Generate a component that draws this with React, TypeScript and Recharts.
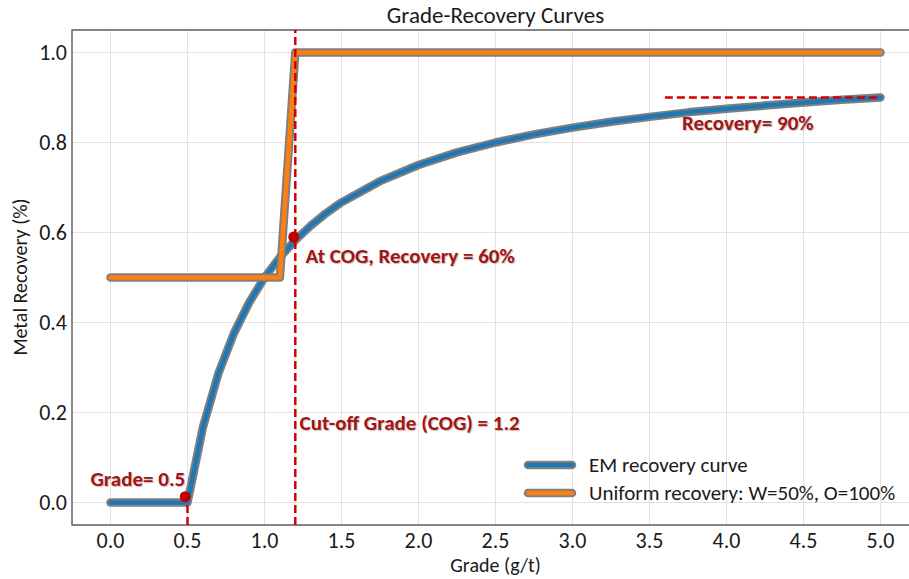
import React from 'react';
import {
  LineChart, Line, XAxis, YAxis, CartesianGrid, ReferenceLine, ReferenceDot, ReferenceArea,
} from 'recharts';

const emGrade = [0, 0.1, 0.2, 0.3, 0.4, 0.5, 0.6, 0.7, 0.8, 0.9, 1.0, 1.1, 1.2, 1.3, 1.4, 1.5, 1.75, 2.0, 2.25, 2.5, 2.75, 3.0, 3.25, 3.5, 3.75, 4.0, 4.25, 4.5, 4.75, 5.0];
const emRecovery = [0, 0, 0, 0, 0, 0, 0.167, 0.286, 0.375, 0.444, 0.5, 0.545, 0.583, 0.615, 0.643, 0.667, 0.714, 0.75, 0.778, 0.8, 0.818, 0.833, 0.846, 0.857, 0.867, 0.875, 0.882, 0.889, 0.895, 0.9];

const uniGrade = [0, 1.1, 1.2, 5.0];
const uniRecovery = [0.5, 0.5, 1.0, 1.0];

const xTicks = [0, 0.5, 1.0, 1.5, 2.0, 2.5, 3.0, 3.5, 4.0, 4.5, 5.0];
const yTicks = [0, 0.2, 0.4, 0.6, 0.8, 1.0];

const seriesNames = ['EM recovery curve', 'Uniform recovery: W=50%, O=100%'];
const seriesColors = ['#1f77b4', '#ff7f0e'];

const cogGrade = 1.2;
const minGrade = 0.5;
const cogPoint = { x: 1.19, y: 0.59 };
const minPoint = { x: 0.485, y: 0.013 };
const maxRecovery = 0.9;
const maxRecoveryFrom = 3.6;
const maxRecoveryTo = 5.0;

const annotations = [
  { x: -0.13, y: 0.053, text: 'Grade= 0.5' },
  { x: 1.267, y: 0.548, text: 'At COG, Recovery = 60%' },
  { x: 1.228, y: 0.177, text: 'Cut-off Grade (COG) = 1.2' },
  { x: 3.711, y: 0.843, text: 'Recovery= 90%' },
];

const emData = emGrade.map((g, i) => ({ x: g, y: emRecovery[i] }));
const uniData = uniGrade.map((g, i) => ({ x: g, y: uniRecovery[i] }));

const FONT = 'Carlito, Lato, sans-serif';
const RED = '#d40000';
const DARKRED = '#a31515';
const OUTLINE = '#7f7f7f';
const TEXT = '#1a1a1a';

const LegendBox = () => (
  <svg width={390} height={60} style={{ position: 'absolute', left: 518, top: 450 }}>
    {seriesNames.map((name, i) => (
      <g key={name}>
        <line x1={10} x2={54} y1={15 + i * 28} y2={15 + i * 28} stroke={OUTLINE} strokeWidth={8.5} strokeLinecap="round" />
        <line x1={10} x2={54} y1={15 + i * 28} y2={15 + i * 28} stroke={seriesColors[i]} strokeWidth={4.5} strokeLinecap="round" />
        <text x={71} y={15 + i * 28} dominantBaseline="central" fontFamily={FONT} fontSize={21} fill={TEXT}>{name}</text>
      </g>
    ))}
  </svg>
);

export default function App() {
  return (
    <div style={{ position: 'absolute', left: 0, top: 0, width: 909, height: 579, overflow: 'hidden', background: '#fff', fontFamily: FONT }}>
      <div style={{ position: 'absolute', left: 0, top: 0 }}>
        <LineChart width={921} height={579} margin={{ top: 30, right: 2, bottom: 0, left: 0 }}>
          <CartesianGrid stroke="#e2e2e2" strokeWidth={1} />
          <XAxis
            type="number"
            dataKey="x"
            domain={[-0.25, 5.25]}
            ticks={xTicks}
            tickFormatter={(v) => v.toFixed(1)}
            allowDataOverflow
            height={54}
            axisLine={false}
            tickLine={false}
            tickSize={5}
            tickMargin={2}
            tick={{ fontSize: 22, fill: TEXT, fontFamily: FONT }}
            label={{ value: 'Grade (g/t)', position: 'insideBottom', offset: 7, fontSize: 20, fill: TEXT, fontFamily: FONT }}
          />
          <YAxis
            type="number"
            dataKey="y"
            domain={[-0.05, 1.05]}
            ticks={yTicks}
            tickFormatter={(v) => v.toFixed(1)}
            allowDataOverflow
            width={72}
            axisLine={false}
            tickLine={false}
            tickSize={3}
            tickMargin={2}
            tick={{ fontSize: 22, fill: TEXT, fontFamily: FONT }}
            label={{
              content: () => (
                <text x={20} y={277} transform="rotate(-90 20 277)" textAnchor="middle" dominantBaseline="central" fontSize={20} fill={TEXT} fontFamily={FONT}>
                  Metal Recovery (%)
                </text>
              ),
            }}
          />
          <ReferenceArea x1={-0.25} x2={5.25} y1={-0.05} y2={1.05} fill="none" stroke="#606060" strokeWidth={1.4} />
          <Line data={emData} dataKey="y" stroke={OUTLINE} strokeWidth={8.5} dot={false} isAnimationActive={false} strokeLinecap="round" strokeLinejoin="round" legendType="none" />
          <Line data={emData} dataKey="y" name={seriesNames[0]} stroke={seriesColors[0]} strokeWidth={4.5} dot={false} isAnimationActive={false} strokeLinecap="round" strokeLinejoin="round" />
          <Line data={uniData} dataKey="y" stroke={OUTLINE} strokeWidth={8.5} dot={false} isAnimationActive={false} strokeLinecap="round" strokeLinejoin="round" legendType="none" />
          <Line data={uniData} dataKey="y" name={seriesNames[1]} stroke={seriesColors[1]} strokeWidth={4.5} dot={false} isAnimationActive={false} strokeLinecap="round" strokeLinejoin="round" />
          <ReferenceLine x={cogGrade} stroke={RED} strokeWidth={2.5} strokeDasharray="8 4" />
          <ReferenceLine segment={[{ x: minGrade, y: -0.05 }, { x: minGrade, y: 0 }]} stroke={RED} strokeWidth={2.5} strokeDasharray="8 4" />
          <ReferenceLine segment={[{ x: maxRecoveryFrom, y: maxRecovery }, { x: maxRecoveryTo, y: maxRecovery }]} stroke={RED} strokeWidth={2.5} strokeDasharray="8 4" />
          <ReferenceDot x={minPoint.x} y={minPoint.y} r={5.5} fill="#c00000" stroke="none" />
          <ReferenceDot x={cogPoint.x} y={cogPoint.y} r={5.5} fill="#c00000" stroke="none" />
          {annotations.map((a) => (
            <ReferenceDot
              key={a.text}
              x={a.x}
              y={a.y}
              r={0}
              shape={(p: any) => (
                <text x={p.cx} y={p.cy} dominantBaseline="central" textAnchor="start" fontFamily={FONT} fontWeight="bold" fontSize={21} fill={DARKRED} style={{ textShadow: '1px 1px 1px rgba(0,0,0,0.25)' }}>
                  {a.text}
                </text>
              )}
            />
          ))}
        </LineChart>
      </div>
      <div style={{ position: 'absolute', left: 0, top: 2, width: 991, textAlign: 'center', fontSize: 23, color: TEXT, lineHeight: '26px' }}>
        Grade-Recovery Curves
      </div>
      <LegendBox />
    </div>
  );
}
